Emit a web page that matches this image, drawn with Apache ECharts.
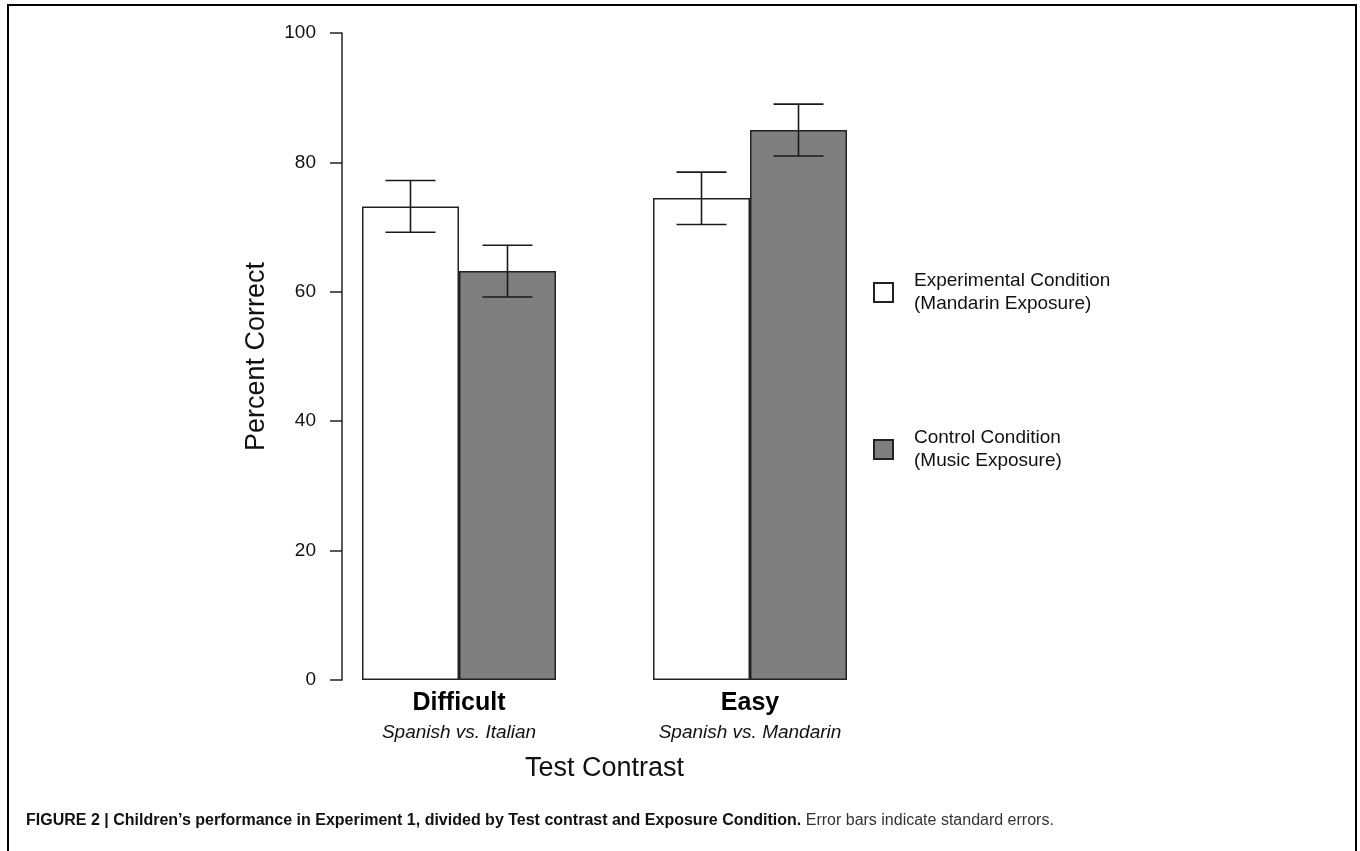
<!DOCTYPE html>
<html>
<head>
<meta charset="utf-8">
<script src="https://cdn.jsdelivr.net/npm/echarts@6/dist/echarts.min.js"></script>
<style>
html,body{margin:0;padding:0;background:#fff;}
#chart{width:1360px;height:851px;}
</style>
</head>
<body>
<div id="chart"></div>
<script>
// ---- data ----
var categories = ['Difficult', 'Easy'];
var subLabels = ['Spanish vs. Italian', 'Spanish vs. Mandarin'];
var seriesNames = ['Experimental Condition\n(Mandarin Exposure)', 'Control Condition\n(Music Exposure)'];
var experimentalMeans = [73.2, 74.5];
var controlMeans = [63.2, 85.0];
var experimentalLow = [69.2, 70.4];
var experimentalHigh = [77.2, 78.5];
var controlLow = [59.2, 81.0];
var controlHigh = [67.2, 89.0];
var yTicks = [0, 20, 40, 60, 80, 100];

var FONT = '"Liberation Sans", Arial, Helvetica, sans-serif';
var BAR_W = 97;

function errData(lows, highs) {
  return categories.map(function (c, i) { return [i, lows[i], highs[i]]; });
}
function makeErrRender(shift) {
  return function (params, api) {
    var x = api.value(0);
    var top = api.coord([x, api.value(2)]);
    var bot = api.coord([x, api.value(1)]);
    var cx = top[0] + shift;
    var hw = 25;
    var st = { stroke: '#1a1a1a', lineWidth: 1.6 };
    return {
      type: 'group',
      children: [
        { type: 'line', shape: { x1: cx, y1: top[1], x2: cx, y2: bot[1] }, style: st },
        { type: 'line', shape: { x1: cx - hw, y1: top[1], x2: cx + hw, y2: top[1] }, style: st },
        { type: 'line', shape: { x1: cx - hw, y1: bot[1], x2: cx + hw, y2: bot[1] }, style: st }
      ]
    };
  };
}

var chart = echarts.init(document.getElementById('chart'));
var option = {
  backgroundColor: '#ffffff',
  animation: false,
  textStyle: { fontFamily: FONT },
  grid: { left: 313.5, width: 582, top: 33, bottom: 171, containLabel: false },
  legend: {
    orient: 'vertical',
    left: 873,
    top: 270,
    padding: 0,
    itemWidth: 19,
    itemHeight: 19,
    itemGap: 112,
    icon: 'rect',
    data: seriesNames,
    textStyle: { fontFamily: FONT, fontSize: 19, lineHeight: 22.5, color: '#111', padding: [0, 0, 0, 16] }
  },
  xAxis: {
    type: 'category',
    data: categories,
    axisLine: { show: false },
    axisTick: { show: false },
    axisLabel: {
      margin: 8,
      formatter: function (v, i) { return '{a|' + v + '}\n{b|' + subLabels[i] + '}'; },
      rich: {
        a: { fontFamily: FONT, fontSize: 25, fontWeight: 'bold', color: '#000', lineHeight: 30 },
        b: { fontFamily: FONT, fontSize: 19, fontStyle: 'italic', color: '#111', lineHeight: 30 }
      }
    },
    name: 'Test Contrast',
    nameLocation: 'middle',
    nameGap: 75,
    nameTextStyle: { fontFamily: FONT, fontSize: 27, color: '#111' }
  },
  yAxis: {
    type: 'value',
    min: 0,
    max: 100,
    interval: 20,
    offset: -28.5,
    splitLine: { show: false },
    axisLine: { show: true, lineStyle: { color: '#222', width: 1.5 } },
    axisTick: { show: true, length: 12, lineStyle: { color: '#222', width: 1.5 } },
    axisLabel: {
      margin: 26,
      fontFamily: FONT, fontSize: 19, color: '#111',
      formatter: function (v) { return yTicks.indexOf(v) >= 0 ? String(v) : ''; }
    },
    name: 'Percent Correct',
    nameLocation: 'middle',
    nameRotate: 90,
    nameGap: 72,
    nameTextStyle: { fontFamily: FONT, fontSize: 27, color: '#111' }
  },
  series: [
    {
      name: seriesNames[0],
      type: 'bar',
      data: experimentalMeans,
      barWidth: BAR_W,
      barGap: '0%',
      itemStyle: { color: '#ffffff', borderColor: '#222', borderWidth: 1.5 }
    },
    {
      name: seriesNames[1],
      type: 'bar',
      data: controlMeans,
      barWidth: BAR_W,
      barGap: '0%',
      itemStyle: { color: '#7f7f7f', borderColor: '#222', borderWidth: 1.5 }
    },
    {
      type: 'custom',
      name: 'errExp',
      data: errData(experimentalLow, experimentalHigh),
      renderItem: makeErrRender(-BAR_W / 2),
      z: 10,
      encode: { x: 0, y: [1, 2] }
    },
    {
      type: 'custom',
      name: 'errCtrl',
      data: errData(controlLow, controlHigh),
      renderItem: makeErrRender(BAR_W / 2),
      z: 10,
      encode: { x: 0, y: [1, 2] }
    }
  ],
  graphic: [
    {
      type: 'rect',
      shape: { x: 8, y: 5, width: 1348, height: 870 },
      style: { fill: 'none', stroke: '#000', lineWidth: 2 },
      silent: true
    },
    {
      type: 'text',
      left: 26,
      top: 813,
      style: {
        text: '{b|FIGURE 2 | Children\u2019s performance in Experiment 1, divided by Test contrast and Exposure Condition.}{n| Error bars indicate standard errors.}',
        rich: {
          b: { fontFamily: FONT, fontSize: 16, fontWeight: 'bold', fill: '#111' },
          n: { fontFamily: FONT, fontSize: 16, fill: '#333' }
        }
      }
    }
  ]
};
chart.setOption(option);
</script>
</body>
</html>
